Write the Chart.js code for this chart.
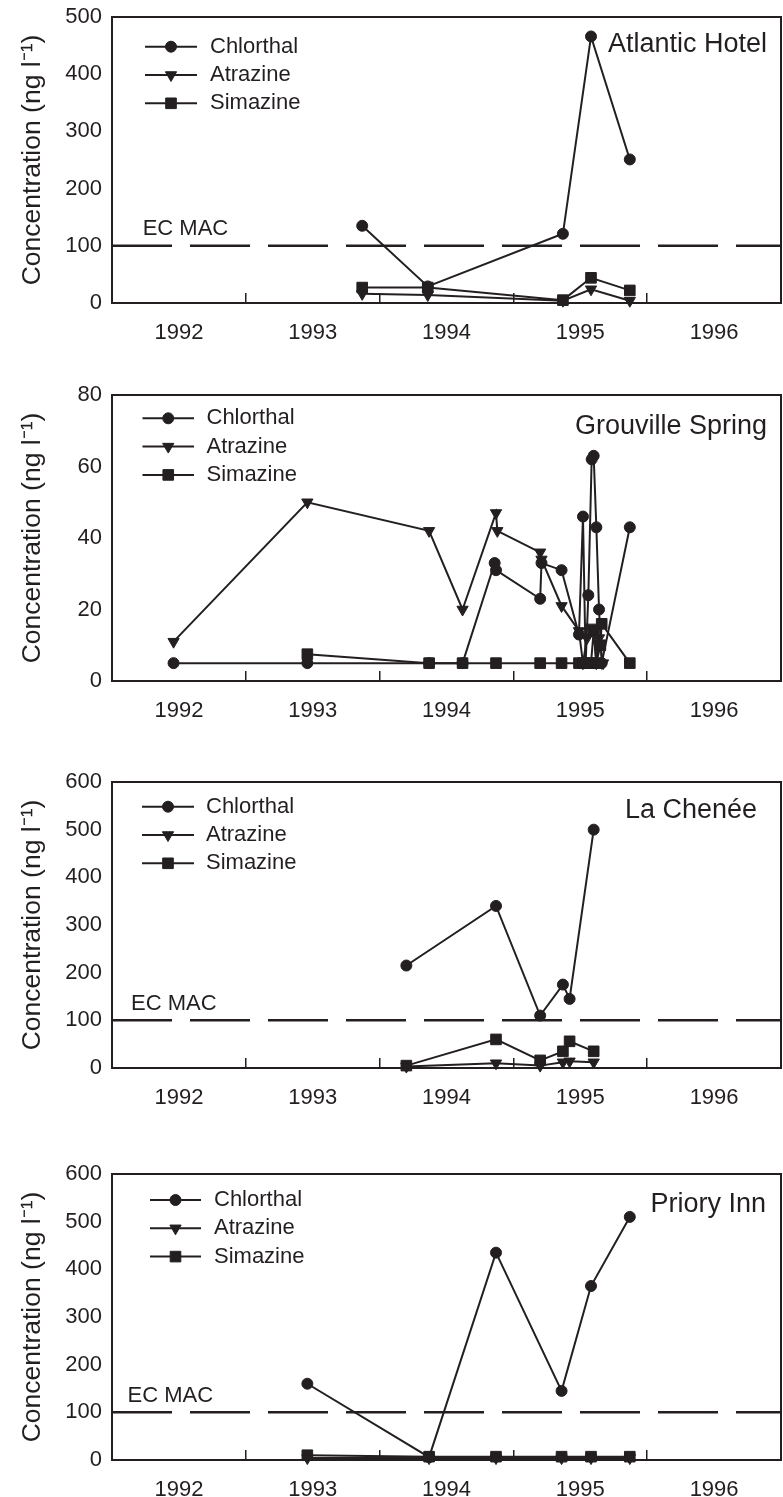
<!DOCTYPE html>
<html>
<head>
<meta charset="utf-8">
<script src="https://cdn.jsdelivr.net/npm/chart.js@4.4.1/dist/chart.umd.min.js"></script>
<style>
  html, body { margin: 0; padding: 0; background: #fff; overflow: hidden; }
  .panel { position: absolute; left: 0; width: 783px; height: 348px; }
</style>
</head>
<body>
<div class="panel" style="top:0px"><canvas id="atlantic"></canvas></div>
<div class="panel" style="top:378px"><canvas id="grouville"></canvas></div>
<div class="panel" style="top:765px"><canvas id="chenee"></canvas></div>
<div class="panel" style="top:1157px"><canvas id="priory"></canvas></div>
<script>
const INK = '#231f20';
const FONT = "'Liberation Sans', Arial, Helvetica, sans-serif";

// x axis: years, labels sit on the whole years, tick marks between them
const yearLabels = [1992, 1993, 1994, 1995, 1996];
const ecMac = 100;

// Atlantic Hotel
const atlanticDates = [1993.37, 1993.86, 1994.87, 1995.08, 1995.37];
const atlanticChlorthal = [135, 29, 121, 466, 251];
const atlanticAtrazine = [16, 14, 4, 24, 4];
const atlanticSimazine = [27, 27, 5, 44, 22];

// Grouville Spring (series sampled on different dates)
const grouvilleChlorthalDates = [1991.96, 1992.96, 1993.87, 1994.12, 1994.36, 1994.37, 1994.70, 1994.71, 1994.86, 1994.99, 1995.02, 1995.04, 1995.06, 1995.085, 1995.10, 1995.12, 1995.14, 1995.16, 1995.37];
const grouvilleChlorthal = [5, 5, 5, 5, 33, 31, 23, 33, 31, 13, 46, 5, 24, 62, 63, 43, 20, 5, 43];
const grouvilleAtrazineDates = [1991.96, 1992.96, 1993.87, 1994.12, 1994.37, 1994.38, 1994.70, 1994.71, 1994.86, 1994.99, 1995.02, 1995.05, 1995.08, 1995.10, 1995.12, 1995.14, 1995.17];
const grouvilleAtrazine = [11, 50, 42, 20, 47, 42, 36, 34, 21, 14, 5, 12, 15, 14, 5, 12, 5];
const grouvilleSimazineDates = [1992.96, 1993.87, 1994.12, 1994.37, 1994.70, 1994.86, 1994.99, 1995.02, 1995.05, 1995.08, 1995.10, 1995.12, 1995.15, 1995.16, 1995.37];
const grouvilleSimazine = [7.5, 5, 5, 5, 5, 5, 5, 5, 5, 5, 14, 5, 10, 16, 5];

// La Chenée
const cheneeDates = [1993.70, 1994.37, 1994.70, 1994.87, 1994.92, 1995.10];
const cheneeChlorthal = [215, 340, 110, 175, 145, 500];
const cheneeAtrazine = [3, 10, 5, 12, 14, 12];
const cheneeSimazine = [5, 60, 16, 35, 56, 35];

// Priory Inn
const prioryDates = [1992.96, 1993.87, 1994.37, 1994.86, 1995.08, 1995.37];
const prioryChlorthal = [160, 6, 435, 145, 365, 510];
const prioryAtrazine = [4, 4, 4, 4, 4, 4];
const priorySimazine = [10, 7, 7, 7, 7, 7];

function pts(dates, vals) {
    return dates.map((d, i) => ({ x: d, y: vals[i] }));
}

function series(label, dates, vals) {
    const style = {
        Chlorthal: { pointStyle: 'circle', pointRadius: 5.5, pointRotation: 0 },
        Atrazine: { pointStyle: 'triangle', pointRadius: 6.5, pointRotation: 180 },
        Simazine: { pointStyle: 'rect', pointRadius: 7.5, pointRotation: 0 }
    }[label];
    return Object.assign({
        label: label,
        data: pts(dates, vals),
        borderColor: INK,
        backgroundColor: INK,
        pointBackgroundColor: INK,
        pointBorderColor: INK,
        pointBorderWidth: 1,
        borderWidth: 2,
        tension: 0,
        clip: false
    }, style);
}

function macLine() {
    return {
        label: 'EC MAC',
        data: [{ x: 1991.5, y: ecMac }, { x: 1996.5, y: ecMac }],
        borderColor: INK,
        borderWidth: 2.5,
        borderDash: [60, 18],
        pointRadius: 0,
        pointHoverRadius: 0
    };
}

// frame, legend, site name and EC MAC text
const panelDecor = {
    id: 'panelDecor',
    beforeDatasetsDraw(chart) {
        const { ctx, chartArea: a } = chart;
        ctx.save();
        ctx.strokeStyle = INK;
        ctx.lineWidth = 2;
        ctx.strokeRect(a.left, a.top, a.right - a.left, a.bottom - a.top);
        ctx.restore();
    },
    afterDatasetsDraw(chart, args, o) {
        const { ctx, chartArea: a } = chart;
        ctx.save();
        ctx.fillStyle = INK;
        ctx.strokeStyle = INK;
        ctx.textBaseline = 'middle';

        const rows = chart.data.datasets.filter(d => d.label !== 'EC MAC');
        rows.forEach((d, i) => {
            const y = a.top + o.legendTop + i * 28.3;
            ctx.lineWidth = 2;
            ctx.beginPath();
            ctx.moveTo(a.left + o.lineFrom, y);
            ctx.lineTo(a.left + o.lineTo, y);
            ctx.stroke();
            ctx.lineWidth = 1;
            Chart.helpers.drawPoint(ctx, {
                pointStyle: d.pointStyle,
                radius: d.pointRadius,
                rotation: d.pointRotation,
                borderWidth: 1
            }, a.left + (o.lineFrom + o.lineTo) / 2, y);
            ctx.font = '22px ' + FONT;
            ctx.textAlign = 'left';
            ctx.fillText(d.label, a.left + o.textX, y);
        });

        ctx.font = '27px ' + FONT;
        ctx.textAlign = 'right';
        ctx.fillText(o.site, a.right - o.siteRight, a.top + o.siteTop);

        if (o.mac) {
            const yMac = chart.scales.y.getPixelForValue(ecMac);
            ctx.font = '22px ' + FONT;
            ctx.textAlign = 'left';
            ctx.fillText('EC MAC', a.left + o.macX, yMac - 16.5);
        }
        ctx.restore();
    }
};

function makePanel(id, datasets, yMax, yStep, decor) {
    const ctx = document.getElementById(id).getContext('2d');
    return new Chart(ctx, {
        type: 'line',
        data: { datasets: datasets },
        plugins: [panelDecor],
        options: {
            responsive: true,
            maintainAspectRatio: false,
            animation: false,
            events: [],
            layout: { autoPadding: false, padding: { top: 17, right: 2, left: 0, bottom: 0 } },
            plugins: {
                legend: { display: false },
                tooltip: { enabled: false },
                panelDecor: decor
            },
            scales: {
                x: {
                    type: 'linear',
                    min: 1991.5,
                    max: 1996.5,
                    afterBuildTicks: s => {
                        const t = [];
                        for (let v = 1991.5; v <= 1996.5; v += 0.5) t.push({ value: v });
                        s.ticks = t;
                    },
                    afterFit: s => {
                        s.height = 45;
                        s.paddingLeft = 0;
                        s.paddingRight = 0;
                    },
                    border: { display: false },
                    grid: {
                        drawOnChartArea: false,
                        drawTicks: true,
                        tickLength: -10,
                        lineWidth: 1.5,
                        color: c => {
                            const v = c.tick ? c.tick.value : 0;
                            return (!yearLabels.includes(v) && v > 1991.5 && v < 1996.5) ? INK : 'rgba(0,0,0,0)';
                        }
                    },
                    ticks: {
                        autoSkip: false,
                        maxRotation: 0,
                        padding: 27,
                        color: INK,
                        font: { family: FONT, size: 22 },
                        callback: v => yearLabels.includes(v) ? String(v) : ''
                    }
                },
                y: {
                    min: 0,
                    max: yMax,
                    afterFit: s => {
                        s.width = 112;
                        s.paddingTop = 0;
                        s.paddingBottom = 0;
                    },
                    border: { display: false },
                    grid: { display: false, drawTicks: false },
                    ticks: {
                        stepSize: yStep,
                        padding: 10,
                        color: INK,
                        font: { family: FONT, size: 22 }
                    },
                    title: {
                        display: true,
                        text: 'Concentration (ng l\u207B\u00B9)',
                        color: INK,
                        font: { family: FONT, size: 26.5 },
                        padding: { top: 17, bottom: 0 }
                    }
                }
            }
        }
    });
}

makePanel('atlantic', [
    series('Chlorthal', atlanticDates, atlanticChlorthal),
    series('Atrazine', atlanticDates, atlanticAtrazine),
    series('Simazine', atlanticDates, atlanticSimazine),
    macLine()
], 500, 100, { site: 'Atlantic Hotel', siteRight: 14, siteTop: 28, legendTop: 29.7, lineFrom: 33, lineTo: 85, textX: 98, mac: true, macX: 30.7 });

makePanel('grouville', [
    series('Chlorthal', grouvilleChlorthalDates, grouvilleChlorthal),
    series('Atrazine', grouvilleAtrazineDates, grouvilleAtrazine),
    series('Simazine', grouvilleSimazineDates, grouvilleSimazine)
], 80, 20, { site: 'Grouville Spring', siteRight: 14, siteTop: 31.7, legendTop: 23.3, lineFrom: 30.5, lineTo: 82, textX: 94.5, mac: false });

makePanel('chenee', [
    series('Chlorthal', cheneeDates, cheneeChlorthal),
    series('Atrazine', cheneeDates, cheneeAtrazine),
    series('Simazine', cheneeDates, cheneeSimazine),
    macLine()
], 600, 100, { site: 'La Chenée', siteRight: 24, siteTop: 29, legendTop: 24.7, lineFrom: 30, lineTo: 82, textX: 94, mac: true, macX: 19 });

makePanel('priory', [
    series('Chlorthal', prioryDates, prioryChlorthal),
    series('Atrazine', prioryDates, prioryAtrazine),
    series('Simazine', prioryDates, priorySimazine),
    macLine()
], 600, 100, { site: 'Priory Inn', siteRight: 15, siteTop: 31, legendTop: 26, lineFrom: 38, lineTo: 89, textX: 102, mac: true, macX: 15.5 });
</script>
</body>
</html>
